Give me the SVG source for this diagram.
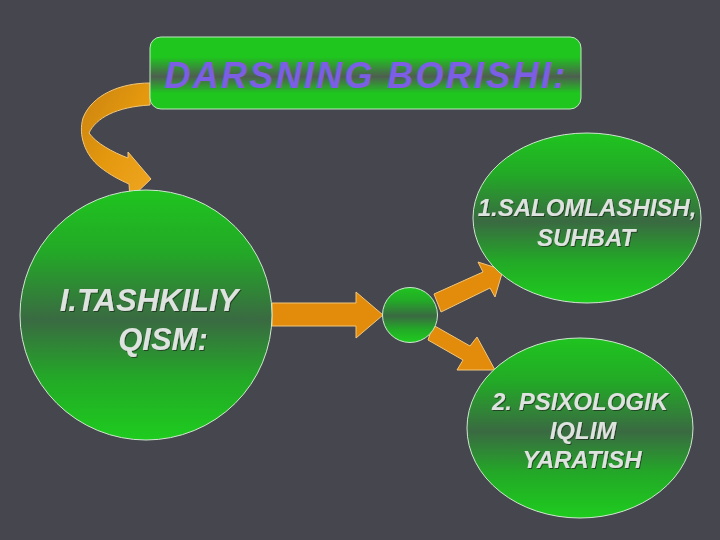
<svg xmlns="http://www.w3.org/2000/svg" width="720" height="540" viewBox="0 0 720 540">
<defs>
<linearGradient id="gTitle" x1="0" y1="0" x2="0" y2="1">
<stop offset="0" stop-color="#1ec61e"/>
<stop offset="0.28" stop-color="#1ec61e"/>
<stop offset="0.55" stop-color="#4e5e50"/>
<stop offset="0.78" stop-color="#1ec61e"/>
<stop offset="1" stop-color="#1ec61e"/>
</linearGradient>
<linearGradient id="gBall" x1="0" y1="0" x2="0" y2="1">
<stop offset="0" stop-color="#1fc41f"/>
<stop offset="0.25" stop-color="#23a827"/>
<stop offset="0.52" stop-color="#3a6a42"/>
<stop offset="0.75" stop-color="#23a827"/>
<stop offset="1" stop-color="#1ecc1e"/>
</linearGradient>
<linearGradient id="gCurve" x1="0" y1="0" x2="1" y2="1">
<stop offset="0" stop-color="#c98210"/>
<stop offset="0.5" stop-color="#e4980e"/>
<stop offset="1" stop-color="#f0a622"/>
</linearGradient>
<filter id="sh" x="-5%" y="-20%" width="110%" height="140%">
<feDropShadow dx="1" dy="1" stdDeviation="0.6" flood-color="#1a2a1a" flood-opacity="0.7"/>
</filter>
<style>
.ball{fill:url(#gBall);stroke:#cfe8cf;stroke-width:1}
.arr{fill:#e38c0c;stroke:#f2c77a;stroke-width:1;stroke-linejoin:round}
.lbl{font-family:"Liberation Sans",Arial,sans-serif;font-style:italic;font-weight:bold;fill:#dfe3df;text-anchor:middle;filter:url(#sh)}
</style>
</defs>
<rect width="720" height="540" fill="#46464f"/>

<g id="connectors">
<path class="arr" style="fill:url(#gCurve)" d="M150,83 C120,83 92,95 83,118 C78,135 85,155 100,167 C110,175 120,180 129,184 L130,199 L151,179 L128,152 L128,158 C112,152 96,143 89,133 C96,118 116,107 150,105 Z"/>
<path class="arr" d="M272,303 L356,303 L356,292 L383,315 L356,338 L356,326 L272,326 Z"/>
<path class="arr" d="M434,294 L483,272 L478,262 L503,270 L495,297 L490,288 L441,312 Z"/>
<path class="arr" d="M433,325 L470,346 L477,337 L495,370 L457,370 L463,360 L428,340 Z"/>
</g>

<g id="title">
<rect x="150" y="37" width="431" height="72" rx="11" fill="url(#gTitle)" stroke="#bfe8bf" stroke-width="1"/>
<text x="366" y="88" font-family="'Liberation Sans',Arial,sans-serif" font-style="italic" font-weight="bold" font-size="36" letter-spacing="2.3" fill="#7b5ee4" text-anchor="middle">DARSNING BORISHI:</text>
</g>

<g id="tashkiliy">
<ellipse class="ball" cx="146" cy="315" rx="126" ry="125"/>
<text class="lbl" font-size="31"><tspan x="149" y="311">I.TASHKILIY</tspan><tspan x="163" y="350">QISM:</tspan></text>
</g>

<g id="hub">
<circle class="ball" cx="410" cy="315" r="27.5"/>
</g>

<g id="salom">
<ellipse class="ball" cx="587" cy="218" rx="114" ry="85"/>
<text class="lbl" font-size="24"><tspan x="587" y="216">1.SALOMLASHISH,</tspan><tspan x="586" y="246">SUHBAT</tspan></text>
</g>

<g id="psix">
<ellipse class="ball" cx="580" cy="428" rx="113" ry="90"/>
<text class="lbl" font-size="24"><tspan x="580" y="410">2. PSIXOLOGIK</tspan><tspan x="583" y="439">IQLIM</tspan><tspan x="582" y="468">YARATISH</tspan></text>
</g>
</svg>
